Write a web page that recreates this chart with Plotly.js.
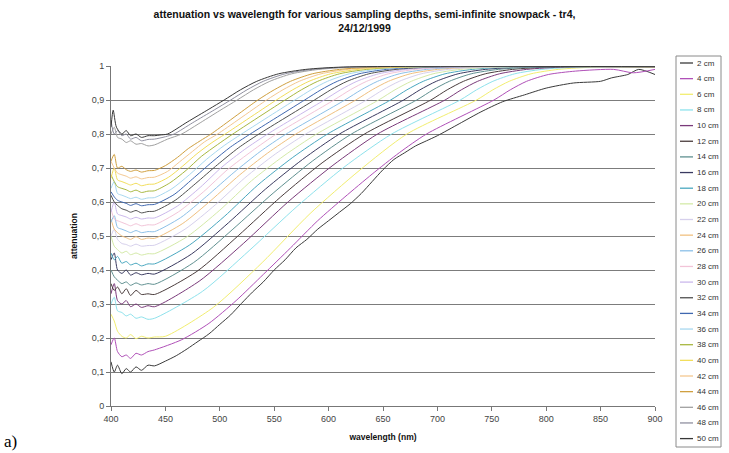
<!DOCTYPE html>
<html>
<head>
<meta charset="utf-8">
<script src="https://cdn.plot.ly/plotly-3.0.1.min.js"></script>
<style>html,body{margin:0;padding:0;background:#fff;}#chart{width:729px;height:453px;}</style>
</head>
<body>
<div id="chart"></div>
<script>
// ---- data ----
const depths = ['2 cm','4 cm','6 cm','8 cm','10 cm','12 cm','14 cm','16 cm','18 cm','20 cm','22 cm','24 cm','26 cm','28 cm','30 cm','32 cm','34 cm','36 cm','38 cm','40 cm','42 cm','44 cm','46 cm','48 cm','50 cm'];

const wl_02 = [400,403,406,410,414,418,423,428,434,440,450,460,470,480,490,500,510,520,530,540,550,560,570,580,590,600,610,620,630,640,650,660,670,680,690,700,720,740,760,780,800,825,850,860,875,885,900];
const at_02 = [0.13,0.10,0.12,0.095,0.11,0.10,0.115,0.105,0.12,0.118,0.132,0.148,0.168,0.19,0.212,0.24,0.268,0.302,0.335,0.365,0.40,0.43,0.465,0.49,0.52,0.545,0.57,0.595,0.625,0.66,0.695,0.725,0.745,0.765,0.78,0.795,0.83,0.865,0.895,0.915,0.935,0.95,0.955,0.965,0.975,0.99,0.975];

const wl_04 = [400,403,406,410,414,418,423,428,434,440,465,490,515,540,565,590,615,640,665,690,752,767,782,802,827,862,880,900];
const at_04 = [0.18,0.20,0.16,0.145,0.15,0.14,0.155,0.15,0.16,0.165,0.195,0.243,0.31,0.387,0.465,0.545,0.615,0.682,0.745,0.80,0.90,0.93,0.955,0.975,0.985,0.99,0.98,0.99];

const wl_06 = [400,403,406,410,414,418,423,428,434,440,450,494,539,583,628,672,736,751,766,786,811,846,900];
const at_06 = [0.27,0.25,0.22,0.205,0.20,0.21,0.198,0.205,0.20,0.203,0.205,0.29,0.422,0.566,0.692,0.80,0.90,0.93,0.955,0.977,0.99,0.997,0.998];

const wl_08 = [400,403,406,410,414,418,423,428,434,440,484,527,571,614,658,721,736,751,771,796,831,900];
const at_08 = [0.30,0.32,0.28,0.275,0.265,0.27,0.258,0.262,0.255,0.258,0.337,0.457,0.587,0.702,0.80,0.90,0.93,0.955,0.977,0.99,0.997,0.998];

const wl_10 = [400,403,406,410,414,418,423,428,434,440,481,522,563,604,645,707,722,737,757,782,817,900];
const at_10 = [0.33,0.36,0.31,0.30,0.31,0.292,0.30,0.29,0.295,0.292,0.367,0.479,0.601,0.708,0.80,0.90,0.93,0.955,0.977,0.99,0.997,0.998];

const wl_12 = [400,403,406,410,414,418,423,428,434,440,479,517,556,594,633,694,709,724,744,769,804,900];
const at_12 = [0.36,0.34,0.35,0.33,0.345,0.325,0.34,0.328,0.33,0.328,0.396,0.501,0.615,0.715,0.80,0.90,0.93,0.955,0.977,0.99,0.997,0.998];

const wl_14 = [400,403,406,410,414,418,423,428,434,440,476,512,549,585,621,681,696,711,731,756,791,900];
const at_14 = [0.40,0.38,0.37,0.36,0.365,0.355,0.362,0.356,0.36,0.358,0.422,0.52,0.626,0.72,0.80,0.90,0.93,0.955,0.977,0.99,0.997,0.998];

const wl_16 = [400,403,406,410,414,418,423,428,434,440,474,508,542,576,610,669,684,699,719,744,779,900];
const at_16 = [0.43,0.45,0.40,0.39,0.40,0.385,0.392,0.386,0.39,0.388,0.447,0.539,0.638,0.725,0.80,0.90,0.93,0.955,0.977,0.99,0.997,0.998];

const wl_18 = [400,403,406,410,414,418,423,428,434,440,472,504,535,567,599,657,672,687,707,732,767,900];
const at_18 = [0.45,0.43,0.44,0.42,0.425,0.415,0.42,0.412,0.418,0.418,0.473,0.557,0.65,0.731,0.80,0.90,0.93,0.955,0.977,0.99,0.997,0.998];

const wl_20 = [400,403,406,410,414,418,423,428,434,440,470,500,529,559,589,646,661,676,696,721,756,900];
const at_20 = [0.50,0.47,0.46,0.45,0.455,0.445,0.45,0.444,0.448,0.448,0.498,0.576,0.662,0.736,0.80,0.90,0.93,0.955,0.977,0.99,0.997,0.998];

const wl_22 = [400,403,406,410,414,418,423,428,434,440,468,496,523,551,579,635,650,665,685,710,745,900];
const at_22 = [0.50,0.52,0.49,0.478,0.475,0.47,0.476,0.47,0.472,0.473,0.52,0.592,0.671,0.741,0.80,0.90,0.93,0.955,0.977,0.99,0.997,0.998];

const wl_24 = [400,403,406,410,414,418,423,428,434,440,466,492,518,544,570,625,640,655,675,700,735,900];
const at_24 = [0.55,0.52,0.51,0.50,0.495,0.49,0.498,0.49,0.494,0.493,0.537,0.605,0.679,0.744,0.80,0.90,0.93,0.955,0.977,0.99,0.997,0.998];

const wl_26 = [400,403,406,410,414,418,423,428,434,440,464,488,513,537,561,615,630,645,665,690,725,900];
const at_26 = [0.54,0.56,0.525,0.52,0.515,0.51,0.516,0.51,0.513,0.513,0.554,0.617,0.687,0.748,0.80,0.90,0.93,0.955,0.977,0.99,0.997,0.998];

const wl_28 = [400,403,406,410,414,418,423,428,434,440,462,485,507,530,552,605,620,635,655,680,715,900];
const at_28 = [0.58,0.55,0.545,0.54,0.535,0.53,0.536,0.53,0.533,0.533,0.571,0.63,0.695,0.751,0.80,0.90,0.93,0.955,0.977,0.99,0.997,0.998];

const wl_30 = [400,403,406,410,414,418,423,428,434,440,461,482,502,523,544,596,611,626,646,671,706,900];
const at_30 = [0.57,0.60,0.565,0.56,0.556,0.55,0.555,0.55,0.553,0.553,0.588,0.643,0.703,0.755,0.80,0.90,0.93,0.955,0.977,0.99,0.997,0.998];

const wl_32 = [400,403,406,410,414,418,423,428,434,440,459,478,498,517,536,587,602,617,637,662,697,900];
const at_32 = [0.62,0.60,0.59,0.58,0.576,0.57,0.575,0.568,0.572,0.573,0.605,0.655,0.71,0.759,0.80,0.90,0.93,0.955,0.977,0.99,0.997,0.998];

const wl_34 = [400,403,406,410,414,418,423,428,434,440,458,475,493,510,528,578,593,608,628,653,688,900];
const at_34 = [0.63,0.615,0.605,0.60,0.596,0.59,0.595,0.589,0.592,0.593,0.622,0.668,0.718,0.762,0.80,0.90,0.93,0.955,0.977,0.99,0.997,0.998];

const wl_36 = [400,403,406,410,414,418,423,428,434,440,456,472,488,504,520,569,584,599,619,644,679,900];
const at_36 = [0.64,0.66,0.625,0.62,0.615,0.61,0.614,0.608,0.612,0.613,0.639,0.68,0.726,0.766,0.80,0.90,0.93,0.955,0.977,0.99,0.997,0.998];

const wl_38 = [400,403,406,410,414,418,423,428,434,440,454,469,483,498,512,560,575,590,610,635,670,900];
const at_38 = [0.68,0.66,0.645,0.64,0.636,0.63,0.635,0.628,0.632,0.633,0.656,0.693,0.734,0.769,0.80,0.90,0.93,0.955,0.977,0.99,0.997,0.998];

const wl_40 = [400,403,406,410,414,418,423,428,434,440,453,466,479,492,505,552,567,582,602,627,662,900];
const at_40 = [0.67,0.70,0.665,0.66,0.655,0.65,0.655,0.648,0.652,0.653,0.673,0.706,0.742,0.773,0.80,0.90,0.93,0.955,0.977,0.99,0.997,0.998];

const wl_42 = [400,403,406,410,414,418,423,428,434,440,452,463,475,486,498,543,558,573,593,618,653,900];
const at_42 = [0.72,0.70,0.685,0.68,0.676,0.67,0.674,0.668,0.672,0.673,0.69,0.718,0.749,0.777,0.80,0.90,0.93,0.955,0.977,0.99,0.997,0.998];

const wl_44 = [400,403,406,410,414,418,423,428,434,440,450,461,471,482,492,535,550,565,585,610,645,900];
const at_44 = [0.72,0.74,0.70,0.705,0.695,0.69,0.694,0.688,0.692,0.693,0.707,0.731,0.757,0.78,0.80,0.90,0.93,0.955,0.977,0.99,0.997,0.998];

const wl_46 = [400,403,406,410,414,418,423,428,434,440,452,465,480,500,516,531,546,566,591,626,900];
const at_46 = [0.80,0.82,0.79,0.785,0.775,0.78,0.77,0.772,0.765,0.768,0.785,0.80,0.829,0.869,0.90,0.93,0.955,0.977,0.99,0.997,0.998];

const wl_48 = [400,403,406,410,414,418,423,428,434,440,450,458,475,495,510,525,540,560,585,620,900];
const at_48 = [0.84,0.80,0.81,0.795,0.80,0.785,0.79,0.78,0.784,0.785,0.792,0.80,0.833,0.871,0.90,0.93,0.955,0.977,0.99,0.997,0.998];

const wl_50 = [400,402,405,410,414,418,423,428,434,440,445,452,470,490,504,519,534,554,579,614,900];
const at_50 = [0.82,0.87,0.82,0.80,0.81,0.795,0.80,0.79,0.795,0.795,0.797,0.80,0.835,0.873,0.90,0.93,0.955,0.977,0.99,0.997,0.998];

const xTicks = [400,450,500,550,600,650,700,750,800,850,900];

// ---- styles ----
const colors = ['#3a3a3a','#b050b8','#f2ee70','#8ee2ec','#7a3a7a','#4a3c3c','#5f9090','#3a3a60','#4aa8c0','#d4eaa8',
                '#d6d0ec','#f0c080','#8cc0e8','#f2c4d8','#cbb8ec','#505050','#4068b0','#a8d8f0','#a8b840','#f2de5c',
                '#f4c890','#d0a040','#a0a0a0','#9090a0','#383838'];

const xs = [wl_02,wl_04,wl_06,wl_08,wl_10,wl_12,wl_14,wl_16,wl_18,wl_20,wl_22,wl_24,wl_26,wl_28,wl_30,wl_32,wl_34,wl_36,wl_38,wl_40,wl_42,wl_44,wl_46,wl_48,wl_50];
const ys = [at_02,at_04,at_06,at_08,at_10,at_12,at_14,at_16,at_18,at_20,at_22,at_24,at_26,at_28,at_30,at_32,at_34,at_36,at_38,at_40,at_42,at_44,at_46,at_48,at_50];

const traces = depths.map((name, i) => ({
  type: 'scatter', mode: 'lines', name: name,
  x: xs[i], y: ys[i],
  line: {color: colors[i], width: 1, shape: 'spline', smoothing: 0.7},
  showlegend: false, hoverinfo: 'skip'
}));

// plot area in pixels
const L = 111, R = 655, T = 66, B = 406, W = 729, H = 453;
const px = x => (x - L) / (R - L);
const py = y => (B - y) / (B - T);

// manual legend (Plotly's legend rows are too tall for 25 entries here)
const shapes = [{type:'rect', xref:'paper', yref:'paper', x0:px(676), x1:px(721), y0:py(56), y1:py(447),
                 line:{color:'#8a8a8a', width:1}, fillcolor:'rgba(0,0,0,0)'}];
const annotations = [];
depths.forEach((name, i) => {
  const yy = 63 + i * 15.65;
  shapes.push({type:'line', xref:'paper', yref:'paper', x0:px(680), x1:px(693), y0:py(yy), y1:py(yy),
               line:{color: colors[i], width: 1.3}});
  annotations.push({xref:'paper', yref:'paper', x:px(695), y:py(yy), xanchor:'left', yanchor:'middle',
                    text: name, showarrow:false, font:{family:'Liberation Sans, Arial', size:8, color:'#333'}});
});
annotations.push({xref:'paper', yref:'paper', x:px(2), y:py(453), xanchor:'left', yanchor:'bottom',
                  text:'a)', showarrow:false, font:{family:'Liberation Serif, Times New Roman', size:17, color:'#000'}});

const layout = {
  width: W, height: H,
  margin: {l: L, r: W - R, t: T, b: H - B, pad: 0},
  paper_bgcolor: '#fff', plot_bgcolor: '#fff',
  separators: ', ',
  showlegend: false,
  title: {
    text: '<b>attenuation vs wavelength for various sampling depths, semi-infinite snowpack - tr4,<br>24/12/1999</b>',
    x: 0.5, xref: 'container', xanchor: 'center',
    y: 1 - 18 / H, yref: 'container', yanchor: 'top',
    font: {family: 'Liberation Sans, Arial', size: 10.5, color: '#111'}
  },
  xaxis: {
    range: [400, 900], tickvals: xTicks, ticktext: xTicks.map(String),
    showgrid: false, zeroline: false,
    showline: true, linecolor: '#777', linewidth: 1,
    ticks: 'outside', ticklen: 4, tickcolor: '#777',
    tickfont: {family: 'Liberation Sans, Arial', size: 9, color: '#444'},
    title: {text: '<b>wavelength (nm)</b>', standoff: 11, font: {family: 'Liberation Sans, Arial', size: 8.5, color: '#111'}}
  },
  yaxis: {
    range: [0, 1], dtick: 0.1, tick0: 0,
    showgrid: true, gridcolor: '#7c7c7c', gridwidth: 1,
    zeroline: false,
    showline: true, linecolor: '#777', linewidth: 1,
    ticks: 'outside', ticklen: 4, tickcolor: '#777',
    tickfont: {family: 'Liberation Sans, Arial', size: 9, color: '#444'},
    title: {text: '<b>attenuation</b>', standoff: 12, font: {family: 'Liberation Sans, Arial', size: 8.5, color: '#111'}}
  },
  shapes: shapes,
  annotations: annotations
};

Plotly.newPlot('chart', traces, layout, {staticPlot: true, displayModeBar: false});
</script>
</body>
</html>
